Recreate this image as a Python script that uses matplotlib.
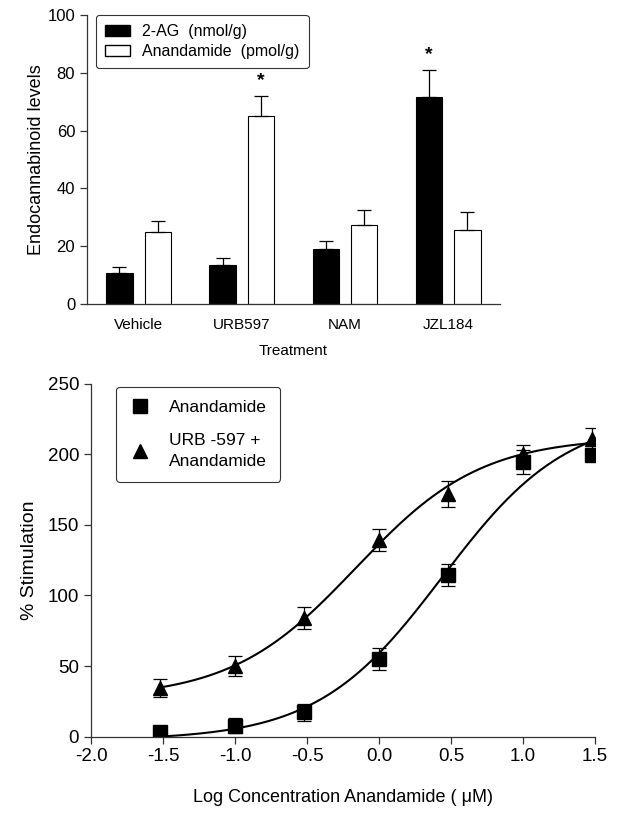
import numpy as np
import matplotlib
matplotlib.use("Agg")
from matplotlib import pyplot as plt
from matplotlib.patches import Patch
from matplotlib.lines import Line2D

plt.rcParams['font.family'] = ['Liberation Sans', 'DejaVu Sans']

# top panel data
treatments = ["Vehicle", "URB597", "NAM", "JZL184"]
ag_vals = [10.7, 13.5, 18.9, 71.5]
ag_err = [2.0, 2.3, 2.9, 9.4]
aea_vals = [24.8, 65.2, 27.3, 25.6]
aea_err = [4.0, 6.8, 5.2, 6.2]
stars_ag = [False, False, False, True]
stars_aea = [False, True, False, False]

# bottom panel data
log_conc = [-1.52, -1.0, -0.52, 0.0, 0.477, 1.0, 1.477]
aea_resp = [3.1, 7.8, 17.3, 55.0, 114.5, 194.3, 199.5]
aea_resp_err = [0.0, 5.5, 6.0, 7.5, 7.7, 8.5, 0.0]
urb_resp = [34.7, 50.0, 84.0, 139.3, 171.9, 200.2, 210.8]
urb_resp_err = [6.5, 7.0, 8.0, 7.5, 9.0, 6.5, 8.0]


def fit_sigmoid(x, y):
    # log(agonist) vs response, hill slope 1; bottom/top by least squares
    x = np.asarray(x)
    y = np.asarray(y)
    best = None
    for e in np.linspace(-2, 2, 801):
        s = 1.0 / (1.0 + 10 ** (e - x))
        A = np.column_stack([1 - s, s])
        coef, *_ = np.linalg.lstsq(A, y, rcond=None)
        r = np.sum((A @ coef - y) ** 2)
        if best is None or r < best[0]:
            best = (r, e, coef)
    _, e, (b, t) = best
    return lambda xx: b + (t - b) / (1.0 + 10 ** (e - xx))


fig = plt.figure(figsize=(6.17, 8.16), dpi=100)
spine_col = "#333333"

# ---- top panel ----
ax1 = fig.add_axes([0.141, 0.6275, 0.669, 0.354])
xpos = np.arange(len(treatments))
off = 0.186
w = 0.255
ax1.bar(xpos - off, ag_vals, w, color="black", edgecolor="black", linewidth=0.8)
ax1.bar(xpos + off, aea_vals, w, color="white", edgecolor="black", linewidth=0.8)
ax1.errorbar(xpos - off, ag_vals, yerr=[np.zeros(4), ag_err], fmt="none",
             ecolor="black", elinewidth=0.9, capsize=4.7, capthick=0.9)
ax1.errorbar(xpos + off, aea_vals, yerr=[np.zeros(4), aea_err], fmt="none",
             ecolor="black", elinewidth=0.9, capsize=4.7, capthick=0.9)
for i in range(len(treatments)):
    if stars_ag[i]:
        ax1.text(xpos[i] - off, ag_vals[i] + ag_err[i] + 2.5, "*", ha="center",
                 va="bottom", fontsize=14, fontweight="bold")
    if stars_aea[i]:
        ax1.text(xpos[i] + off, aea_vals[i] + aea_err[i] + 2.5, "*", ha="center",
                 va="bottom", fontsize=14, fontweight="bold")
ax1.set_xlim(-0.5, 3.5)
ax1.set_ylim(0, 100)
ax1.set_yticks([0, 20, 40, 60, 80, 100])
ax1.set_xticks(xpos)
ax1.set_xticklabels(treatments)
ax1.tick_params(axis="x", length=0, labelsize=11, pad=10)
ax1.tick_params(axis="y", labelsize=12, length=5, width=0.9, color=spine_col)
for s in ["top", "right"]:
    ax1.spines[s].set_visible(False)
for s in ["left", "bottom"]:
    ax1.spines[s].set_color(spine_col)
    ax1.spines[s].set_linewidth(0.9)
ax1.set_ylabel("Endocannabinoid levels", fontsize=13, labelpad=2)
ax1.set_xlabel("Treatment", fontsize=11, labelpad=9)
handles = [Patch(facecolor="black", edgecolor="black"),
           Patch(facecolor="white", edgecolor="black")]
leg1 = ax1.legend(handles, ["2-AG  (nmol/g)", "Anandamide  (pmol/g)"],
                  loc="upper left", bbox_to_anchor=(0.022, 1.0),
                  borderaxespad=0, fontsize=11.5, frameon=True,
                  fancybox=True, edgecolor="black",
                  handlelength=1.6, handleheight=0.7,
                  labelspacing=0.35, borderpad=0.55,
                  handletextpad=0.75)
leg1.get_frame().set_linewidth(0.8)

# ---- bottom panel ----
ax2 = fig.add_axes([0.1475, 0.0972, 0.817, 0.4326])
xx = np.linspace(-1.52, 1.477, 200)
f_aea = fit_sigmoid(log_conc, aea_resp)
f_urb = fit_sigmoid(log_conc, urb_resp)
ax2.plot(xx, f_aea(xx), color="black", lw=1.5)
ax2.plot(xx, f_urb(xx), color="black", lw=1.5)
ax2.errorbar(log_conc, aea_resp, yerr=aea_resp_err, fmt="s", color="black",
             ms=9.5, elinewidth=0.9, capsize=4.7, capthick=0.9)
ax2.errorbar(log_conc, urb_resp, yerr=urb_resp_err, fmt="^", color="black",
             ms=9.5, elinewidth=0.9, capsize=4.7, capthick=0.9)
ax2.set_xlim(-2.0, 1.5)
ax2.set_ylim(0, 250)
ax2.set_xticks([-2.0, -1.5, -1.0, -0.5, 0.0, 0.5, 1.0, 1.5])
ax2.set_xticklabels(["-2.0", "-1.5", "-1.0", "-0.5", "0.0", "0.5", "1.0", "1.5"])
ax2.set_yticks([0, 50, 100, 150, 200, 250])
ax2.tick_params(labelsize=13.5, length=5, width=0.9, color=spine_col)
for s in ["top", "right"]:
    ax2.spines[s].set_visible(False)
for s in ["left", "bottom"]:
    ax2.spines[s].set_color(spine_col)
    ax2.spines[s].set_linewidth(0.9)
ax2.set_ylabel("% Stimulation", fontsize=14, labelpad=7)
ax2.set_xlabel("Log Concentration Anandamide ( \u03bcM)", fontsize=13, labelpad=17)
leg_handles = [Line2D([], [], marker="s", ls="none", color="black", ms=9.5),
               Line2D([], [], marker="^", ls="none", color="black", ms=9.5)]
leg2 = ax2.legend(leg_handles, ["Anandamide", "URB -597 +\nAnandamide"],
                  loc="upper left", bbox_to_anchor=(0.05, 0.991), borderaxespad=0,
                  fontsize=12.5, frameon=True, fancybox=True, edgecolor="black",
                  handlelength=1.2, labelspacing=1.05, borderpad=0.75,
                  handletextpad=1.1)
for t in leg2.get_texts():
    t.set_linespacing(1.45)
leg2.get_frame().set_linewidth(0.8)

fig.savefig("out.png", dpi=100)
